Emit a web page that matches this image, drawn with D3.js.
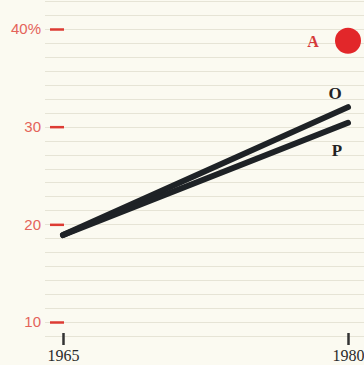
<!DOCTYPE html>
<html><head><meta charset="utf-8">
<script src="https://cdn.jsdelivr.net/npm/d3@7"></script>
<style>
html,body{margin:0;padding:0;background:#fbfaf1;}
svg{display:block;}
</style></head>
<body><svg id="c" width="364" height="365"></svg>
<script>
const years = [1965, 1980];
const seriesNames = ["O", "P"];
const seriesO = [18.9, 32.0];
const seriesP = [18.9, 30.4];
const pointA = {name: "A", year: 1980, value: 38.8};
const yTicks = [10, 20, 30, 40];
const yTickLabels = ["10", "20", "30", "40%"];
const xTicks = [1965, 1980];
const gridValues = d3.range(-1, 24).map(k => 10 + k * 10 / 7);

const svg = d3.select("#c");
const x = d3.scaleLinear().domain([1965, 1980]).range([63, 348]);
const y = d3.scaleLinear().domain([10, 40]).range([322, 29]);

svg.append("rect").attr("width", 364).attr("height", 365).attr("fill", "#fbfaf1");

// ruled grid lines
svg.append("g").selectAll("line").data(gridValues).join("line")
  .attr("x1", 45).attr("x2", 364)
  .attr("y1", d => Math.round(y(d)) + 0.5).attr("y2", d => Math.round(y(d)) + 0.5)
  .attr("stroke", "#e6e4d6").attr("stroke-width", 1);

// y axis
const yAxis = d3.axisLeft(y).tickValues(yTicks).tickFormat((d, i) => yTickLabels[i]).tickSize(14).tickPadding(9);
const gy = svg.append("g").attr("transform", "translate(64,0)").call(yAxis);
gy.select(".domain").remove();
gy.selectAll(".tick line").attr("stroke", "#dd3b33").attr("stroke-width", 2.5);
gy.selectAll(".tick text").attr("fill", "#e4635a").attr("font-family", "Liberation Sans, Arial, sans-serif").attr("font-size", 15);

// x axis
const xAxis = d3.axisBottom(x).tickValues(xTicks).tickFormat(d3.format("d")).tickSize(12).tickPadding(5);
const gx = svg.append("g").attr("transform", "translate(0,333)").call(xAxis);
gx.select(".domain").remove();
gx.selectAll(".tick line").attr("stroke", "#333").attr("stroke-width", 2.5);
gx.selectAll(".tick text").attr("fill", "#2a2a2a").attr("font-family", "Liberation Serif, Times New Roman, serif").attr("font-size", 16);

// lines
const line = d3.line().x((d, i) => x(years[i])).y(d => y(d));
[seriesO, seriesP].forEach(s => {
  svg.append("path").datum(s).attr("d", line)
    .attr("fill", "none").attr("stroke", "#1e2226").attr("stroke-width", 6).attr("stroke-linecap", "round");
});

// series labels
svg.append("text").attr("x", x(1980) - 13).attr("y", y(seriesO[1]) - 8)
  .attr("text-anchor", "middle").attr("font-family", "Liberation Serif, serif").attr("font-weight", "bold")
  .attr("font-size", 17).attr("fill", "#222").text(seriesNames[0]);
svg.append("text").attr("x", x(1980) - 11).attr("y", y(seriesP[1]) + 33)
  .attr("text-anchor", "middle").attr("font-family", "Liberation Serif, serif").attr("font-weight", "bold")
  .attr("font-size", 17).attr("fill", "#222").text(seriesNames[1]);

// point A
svg.append("circle").attr("cx", x(pointA.year)).attr("cy", y(pointA.value)).attr("r", 13).attr("fill", "#e2272a");
svg.append("text").attr("x", x(pointA.year) - 35).attr("y", y(pointA.value) + 6)
  .attr("text-anchor", "middle").attr("font-family", "Liberation Serif, serif").attr("font-weight", "bold")
  .attr("font-size", 16).attr("fill", "#d63a3a").text(pointA.name);
</script></body></html>
